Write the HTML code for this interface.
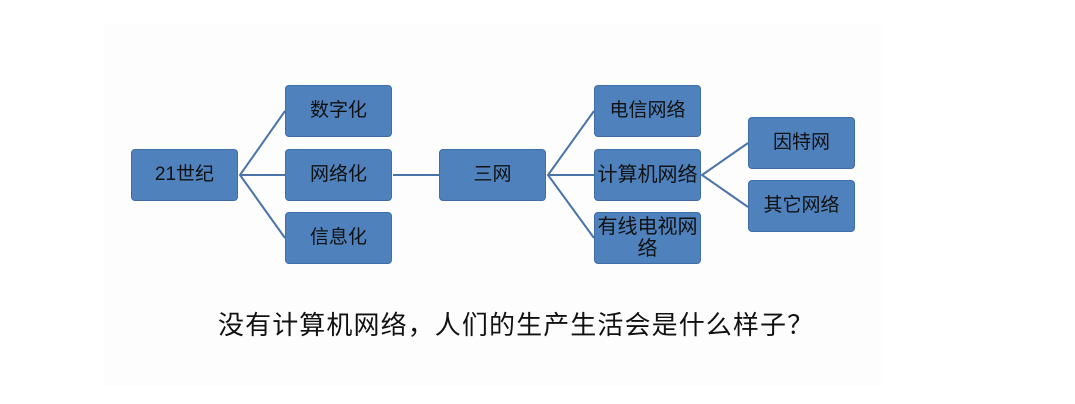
<!DOCTYPE html>
<html><head><meta charset="utf-8"><style>
body{margin:0;width:1075px;height:404px;background:#fff;overflow:hidden;font-family:"Liberation Sans","Noto Sans CJK SC",sans-serif;}
.bg{position:absolute;left:104px;top:24px;width:778px;height:362px;background:#fdfdfd;}
.b{position:absolute;width:107px;height:52px;background:#4f81bd;border:1px solid #3f6ea6;border-radius:4px;box-sizing:border-box;display:flex;align-items:center;justify-content:center;text-align:center;font-size:19px;line-height:22px;color:#111;}
svg{position:absolute;left:0;top:0;}
.q{position:absolute;left:218px;top:305px;font-size:26px;color:#111;white-space:nowrap;letter-spacing:1.1px;}
</style></head><body>
<div class="bg"></div>
<svg width="1075" height="404"><g stroke="#4a74a8" stroke-width="2" fill="none">
<path d="M285 111 L240 175 L285 238 M240 175 L285 175"/>
<path d="M393 175 L439 175"/>
<path d="M594 111 L548 175 L594 238 M548 175 L594 175"/>
<path d="M748 143 L702 175 L748 207"/>
</g></svg>
<div class="b" style="left:131px;top:149px">21世纪</div>
<div class="b" style="left:285px;top:85px">数字化</div>
<div class="b" style="left:285px;top:149px">网络化</div>
<div class="b" style="left:285px;top:212px">信息化</div>
<div class="b" style="left:439px;top:149px">三网</div>
<div class="b" style="left:594px;top:85px">电信网络</div>
<div class="b" style="left:594px;top:149px;font-size:20px">计算机网络</div>
<div class="b" style="left:594px;top:212px;font-size:20px;line-height:22px">有线电视网<br>络</div>
<div class="b" style="left:748px;top:117px">因特网</div>
<div class="b" style="left:748px;top:180px">其它网络</div>
<div class="q">没有计算机网络，人们的生产生活会是什么样子？</div>
</body></html>
